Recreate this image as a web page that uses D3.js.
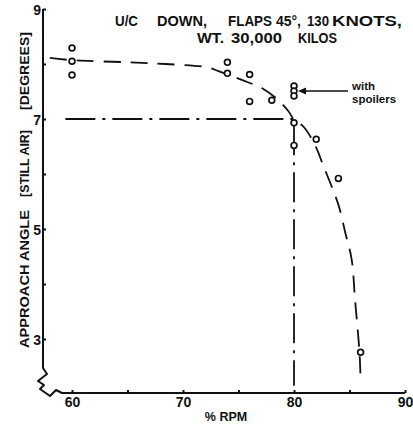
<!DOCTYPE html>
<html>
<head>
<meta charset="utf-8">
<script src="https://cdn.jsdelivr.net/npm/d3@7"></script>
<style>
  html, body { margin: 0; padding: 0; background: #fff; }
  svg { display: block; }
  text { font-family: "Liberation Sans", Arial, Helvetica, sans-serif; font-weight: bold; fill: #111; }
</style>
</head>
<body>
<svg id="chart" width="413" height="425"></svg>
<script>
// ---- data ----
const rpmTicks = [60, 65, 70, 75, 80, 85, 90];
const rpmTickLabels = [60, 70, 80, 90];
const angleTicks = [3, 4, 5, 6, 7, 8, 9];
const angleTickLabels = [3, 5, 7, 9];

// measured points (% RPM, approach angle in degrees)
const testRpm   = [60, 60, 60, 74, 74, 76, 76, 78, 80, 80, 82, 84, 86];
const testAngle = [8.29, 8.05, 7.80, 8.03, 7.83, 7.81, 7.32, 7.34, 6.93, 6.52, 6.63, 5.92, 2.76];

// measured points with spoilers extended
const spoilerRpm   = [80, 80, 80];
const spoilerAngle = [7.60, 7.51, 7.42];

// faired curve through the results
const curveRpm   = [58.0, 60.0, 65.2, 68.4, 72.2, 73.2, 75.3, 77.2, 78.6, 79.5, 80.0, 80.9, 82.0, 82.6, 83.5, 84.05, 84.6, 85.2, 85.5, 85.9, 86.0];
const curveAngle = [8.11, 8.07, 8.03, 8.00, 7.94, 7.87, 7.71, 7.55, 7.34, 7.14, 6.99, 6.85, 6.48, 6.17, 5.72, 5.41, 4.95, 4.44, 3.71, 2.76, 2.25];

// 7 degree / 80 % RPM reference lines
const refRpm = [59.4, 80, 80];
const refAngle = [7, 7, 2.15];

const titleLine1 = ["U/C", "DOWN,", "FLAPS", "45°,", "130", "KNOTS,"];
const titleLine2 = ["WT.", "30,000", "KILOS"];
const yTitleParts = ["APPROACH ANGLE", "[STILL AIR]", "[DEGREES]"];
const xTitle = "% RPM";
const noteLines = ["with", "spoilers"];

// ---- layout ----
const svg = d3.select("#chart");
const axisX = 43;       // y axis position (px)
const axisY = 393;      // x axis position (px)

const x = d3.scaleLinear().domain([60, 90]).range([72, 405]);
const y = d3.scaleLinear().domain([3, 9]).range([339, 9]);

const ink = "#111";

// y axis with break at the bottom, running into the x axis
svg.append("path")
  .attr("d", `M${axisX},${y(9)} L${axisX},368 L47,374 L38,381 L44,385 L40,389 L50,396 L56,390 L62,${axisY} L${x(90)},${axisY}`)
  .attr("fill", "none").attr("stroke", ink).attr("stroke-width", 2)
  .attr("stroke-linejoin", "round");

const yAxis = svg.append("g")
  .attr("transform", `translate(${axisX},0)`)
  .call(d3.axisLeft(y).tickValues(angleTicks).tickSize(-3).tickPadding(2)
    .tickFormat(d => angleTickLabels.includes(d) ? d : ""));
yAxis.select(".domain").remove();
yAxis.selectAll("line").attr("stroke", ink).attr("stroke-width", 2);
yAxis.selectAll("text").attr("font-size", 14).attr("font-family", null).attr("dy", "0.36em");

const xAxis = svg.append("g")
  .attr("transform", `translate(0,${axisY})`)
  .call(d3.axisBottom(x).tickValues(rpmTicks).tickSize(-3).tickPadding(4)
    .tickFormat(d => rpmTickLabels.includes(d) ? d : ""));
xAxis.select(".domain").remove();
xAxis.selectAll("line").attr("stroke", ink).attr("stroke-width", 2);
xAxis.selectAll("text").attr("font-size", 14).attr("font-family", null);

// reference lines (dash-dot)
svg.append("path")
  .attr("d", d3.line().x(d => x(d[0])).y(d => y(d[1]))(refRpm.map((r, i) => [r, refAngle[i]])))
  .attr("fill", "none").attr("stroke", ink).attr("stroke-width", 1.8)
  .attr("stroke-dasharray", "30,7,3,7");

// faired curve (dashed)
svg.append("path")
  .attr("d", d3.line().curve(d3.curveCatmullRom.alpha(0.5))
    .x(d => x(d[0])).y(d => y(d[1]))(curveRpm.map((r, i) => [r, curveAngle[i]])))
  .attr("fill", "none").attr("stroke", ink).attr("stroke-width", 1.8)
  .attr("stroke-dasharray", "17,10");

// data points
const pts = testRpm.map((r, i) => [r, testAngle[i]])
  .concat(spoilerRpm.map((r, i) => [r, spoilerAngle[i]]));
svg.append("g").selectAll("circle").data(pts).join("circle")
  .attr("cx", d => x(d[0])).attr("cy", d => y(d[1])).attr("r", 2.9)
  .attr("fill", "#fff").attr("stroke", ink).attr("stroke-width", 1.7);

// spoiler note with arrow
const arrowY = y(7.51);
svg.append("line")
  .attr("x1", 348).attr("y1", arrowY).attr("x2", 304).attr("y2", arrowY)
  .attr("stroke", ink).attr("stroke-width", 1.6);
svg.append("path")
  .attr("d", `M298,${arrowY} L306,${arrowY - 3.5} L306,${arrowY + 3.5} Z`)
  .attr("fill", ink);
svg.append("text").attr("x", 352).attr("y", 90).attr("font-size", 11.5).text(noteLines[0]);
svg.append("text").attr("x", 352).attr("y", 103).attr("font-size", 11.5).text(noteLines[1]);

// title
const line1Pos = [[115, 23], [157, 50], [228, 44], [276, 25], [307, 22], [332, 70]];
const line2Pos = [[197, 27], [231, 51], [298, 39]];
function titleLine(words, pos, baseline) {
  svg.append("g").selectAll("text").data(words).join("text")
    .attr("x", (d, i) => pos[i][0]).attr("y", baseline)
    .attr("font-size", 14.5)
    .attr("textLength", (d, i) => pos[i][1]).attr("lengthAdjust", "spacingAndGlyphs")
    .text(d => d);
}
titleLine(titleLine1, line1Pos, 26);
titleLine(titleLine2, line2Pos, 43);

// y axis title, rotated
const yTitlePos = [[279, 138], [163.5, 67], [71, 78]];
svg.append("g").selectAll("text").data(yTitleParts).join("text")
  .attr("transform", (d, i) => `translate(24,${yTitlePos[i][0]}) rotate(-90)`)
  .attr("text-anchor", "middle").attr("dy", "0.36em")
  .attr("font-size", 12.5)
  .attr("textLength", (d, i) => yTitlePos[i][1]).attr("lengthAdjust", "spacingAndGlyphs")
  .text(d => d);

// x axis title
svg.append("text").attr("x", 226).attr("y", 421).attr("text-anchor", "middle")
  .attr("font-size", 12.5).text(xTitle);
</script>
</body>
</html>
